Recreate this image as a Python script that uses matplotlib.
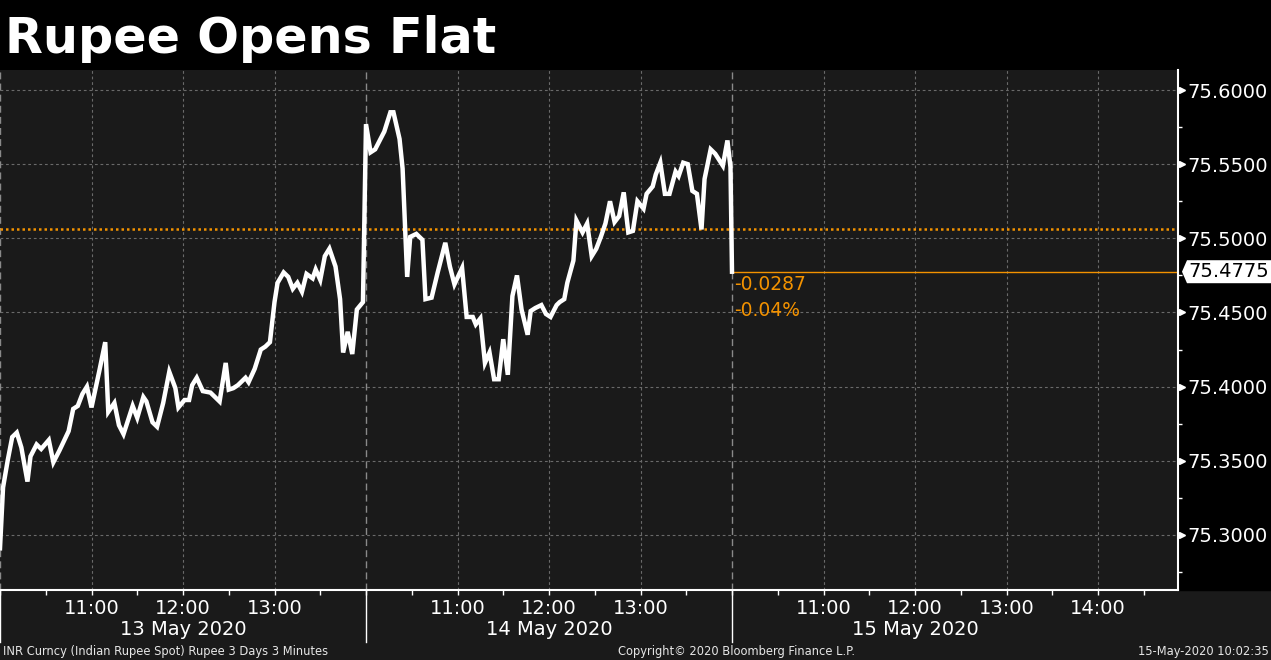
import matplotlib
matplotlib.use('Agg')
import matplotlib.pyplot as plt
from matplotlib.patches import Rectangle, Polygon
from matplotlib.ticker import FixedLocator, MultipleLocator, NullFormatter
import matplotlib.transforms as mtransforms

# INR spot, 3-minute bars, session 10:00-14:00 each day
day_labels = ['13 May 2020', '14 May 2020', '15 May 2020']

d1_times = ['10:00', '10:02', '10:05', '10:08', '10:11', '10:14', '10:18', '10:20', '10:24', '10:27',
            '10:32', '10:35', '10:39', '10:45', '10:48', '10:51', '10:54', '10:57', '11:00', '11:05',
            '11:09', '11:11', '11:15', '11:18', '11:21', '11:27', '11:30', '11:34', '11:36', '11:40',
            '11:43', '11:47', '11:51', '11:55', '11:57', '12:01', '12:04', '12:06', '12:09', '12:13',
            '12:18', '12:21', '12:24', '12:28', '12:30', '12:33', '12:36', '12:41', '12:43', '12:47',
            '12:51', '12:54', '12:57', '13:00', '13:02', '13:06', '13:09', '13:12', '13:15', '13:18',
            '13:21', '13:25', '13:27', '13:30', '13:33', '13:36', '13:40', '13:43', '13:45', '13:48',
            '13:51', '13:54', '13:58']
d1_vals = [75.291, 75.332, 75.350, 75.366, 75.369, 75.359, 75.336, 75.353, 75.361, 75.358,
           75.364, 75.349, 75.357, 75.370, 75.385, 75.387, 75.395, 75.400, 75.386, 75.410,
           75.430, 75.383, 75.389, 75.374, 75.368, 75.387, 75.379, 75.393, 75.390, 75.376,
           75.373, 75.389, 75.410, 75.399, 75.386, 75.391, 75.391, 75.401, 75.406, 75.397,
           75.396, 75.393, 75.390, 75.416, 75.398, 75.399, 75.401, 75.406, 75.403, 75.412,
           75.425, 75.427, 75.430, 75.457, 75.470, 75.477, 75.474, 75.466, 75.470, 75.464,
           75.476, 75.473, 75.479, 75.472, 75.488, 75.493, 75.481, 75.459, 75.423, 75.437,
           75.422, 75.452, 75.457]

d2_times = ['10:00', '10:03', '10:06', '10:09', '10:12', '10:16', '10:18', '10:22', '10:24', '10:27',
            '10:29', '10:33', '10:37', '10:39', '10:43', '10:47', '10:52', '10:55', '10:58', '11:03',
            '11:06', '11:10', '11:12', '11:15', '11:18', '11:21', '11:24', '11:27', '11:30', '11:33',
            '11:36', '11:39', '11:42', '11:46', '11:48', '11:51', '11:55', '11:58', '12:01', '12:05',
            '12:07', '12:10', '12:12', '12:16', '12:18', '12:22', '12:25', '12:28', '12:31', '12:34',
            '12:37', '12:40', '12:43', '12:46', '12:49', '12:52', '12:55', '12:58', '13:02', '13:04',
            '13:08', '13:10', '13:13', '13:16', '13:19', '13:23', '13:25', '13:28', '13:31', '13:34',
            '13:37', '13:40', '13:42', '13:46', '13:49', '13:54', '13:57', '13:59']
d2_vals = [75.577, 75.558, 75.560, 75.566, 75.572, 75.585, 75.585, 75.567, 75.547, 75.474,
           75.501, 75.503, 75.499, 75.459, 75.460, 75.477, 75.497, 75.481, 75.469, 75.480,
           75.447, 75.447, 75.442, 75.446, 75.416, 75.423, 75.405, 75.405, 75.432, 75.408,
           75.461, 75.475, 75.452, 75.435, 75.451, 75.453, 75.455, 75.449, 75.447, 75.455,
           75.457, 75.459, 75.470, 75.485, 75.512, 75.504, 75.510, 75.488, 75.493, 75.501,
           75.510, 75.525, 75.511, 75.515, 75.531, 75.504, 75.505, 75.525, 75.520, 75.530,
           75.535, 75.543, 75.551, 75.530, 75.530, 75.545, 75.542, 75.551, 75.550, 75.532,
           75.530, 75.506, 75.540, 75.560, 75.557, 75.549, 75.566, 75.548]

d3_times = ['10:00']
d3_vals = [75.4775]

prev_close = 75.5062
last_px = 75.4775
net_chg = '-0.0287'
pct_chg = '-0.04%'
hour_labels = ['11:00', '12:00', '13:00']
yticks = [75.30, 75.35, 75.40, 75.45, 75.50, 75.55, 75.60]

ORANGE = '#f39200'
BG = '#1a1a1a'
SESSION = 240  # minutes shown per day


def to_x(day, t):
    h, m = t.split(':')
    return day * SESSION + int(h) * 60 + int(m) - 600


xs, ys = [], []
for d, (tt, vv) in enumerate([(d1_times, d1_vals), (d2_times, d2_vals), (d3_times, d3_vals)]):
    xs += [to_x(d, t) for t in tt]
    ys += vv

fig = plt.figure(figsize=(12.71, 6.60), dpi=100, facecolor=BG)
# black title band and right-axis panel
fig.add_artist(Rectangle((0, 1 - 70 / 660), 1, 70 / 660, transform=fig.transFigure, color='black', zorder=0))
fig.add_artist(Rectangle((1178 / 1271, 70 / 660), 1, 520 / 660, transform=fig.transFigure,
                         color='black', zorder=0))

ax = fig.add_axes([0, 70 / 660, 1178 / 1271, 520 / 660])
ax.set_facecolor(BG)
ax.set_xlim(0, 1178 / 1.525)
ax.set_ylim(75.2629, 75.6135)

# grid
for y in yticks:
    ax.axhline(y, color='#6a6a6a', lw=0.8, ls=(0, (2.5, 2.5)), zorder=1)
hour_pos, hour_txt = [], []
for d in range(3):
    labs = hour_labels + (['14:00'] if d == 2 else [])
    for lab in labs:
        x = to_x(d, lab)
        hour_pos.append(x)
        hour_txt.append(lab)
        ax.axvline(x, color='#6a6a6a', lw=0.8, ls=(0, (2.5, 2.5)), zorder=1)
for d in range(0, 3):
    ax.axvline(d * SESSION, color='#8a8a8a', lw=1.0, ls=(0, (5, 3)), zorder=1)
    ax.plot([d * SESSION, d * SESSION], [0, -0.1], color='white', lw=1.0,
            transform=ax.get_xaxis_transform(), clip_on=False)

# previous close and last price
ax.axhline(prev_close, color=ORANGE, lw=1.8, ls=(0, (1, 1.2)), zorder=2)
ax.plot([xs[-1], ax.get_xlim()[1]], [last_px, last_px], color=ORANGE, lw=1.0, zorder=2)

ax.plot(xs, ys, color='white', lw=3.2, solid_joinstyle='miter', zorder=3)

ax.annotate(net_chg, xy=(xs[-1], last_px), xytext=(1.5, -9.5), textcoords='offset points',
            color=ORANGE, fontsize=13.5, ha='left', va='center')
ax.annotate(pct_chg, xy=(xs[-1], last_px), xytext=(1.5, -28), textcoords='offset points',
            color=ORANGE, fontsize=13.5, ha='left', va='center')

# spines
for s in ['top', 'left']:
    ax.spines[s].set_visible(False)
ax.spines['right'].set_color('white')
ax.spines['right'].set_linewidth(1.5)
ax.spines['bottom'].set_color('white')
ax.spines['bottom'].set_linewidth(1.5)

# x axis
ax.xaxis.set_major_locator(FixedLocator(hour_pos))
ax.set_xticklabels(hour_txt)
ax.xaxis.set_minor_locator(MultipleLocator(30))
ax.tick_params(axis='x', which='both', colors='white', length=3.5, width=1, direction='out',
               labelsize=14, pad=3)
for d, lab in enumerate(day_labels):
    ax.annotate(lab, xy=(d * SESSION + SESSION / 2, 0), xycoords=ax.get_xaxis_transform(),
                xytext=(0, -28.5), textcoords='offset points', ha='center', va='center',
                color='white', fontsize=14)

# y axis on the right
ax.yaxis.tick_right()
ax.yaxis.set_major_locator(FixedLocator(yticks))
ax.set_yticklabels(['%.4f' % v for v in yticks])
ax.yaxis.set_minor_locator(MultipleLocator(0.025))
ax.yaxis.set_minor_formatter(NullFormatter())
ax.tick_params(axis='y', which='major', length=0, pad=6.5, labelsize=14, colors='white')
ax.tick_params(axis='y', which='minor', length=3, width=1, colors='white', direction='out')
ax.plot([1.0035] * len(yticks), yticks, ls='none', marker='>', ms=5, color='white',
        transform=ax.get_yaxis_transform(), clip_on=False)

# last price tag: small pointed white box on the axis
tag_tr = fig.dpi_scale_trans + mtransforms.ScaledTranslation(1.0, last_px, ax.get_yaxis_transform())
tag = Polygon([(0.04, 0), (0.09, 0.115), (1.0, 0.115), (1.0, -0.115), (0.09, -0.115)],
              closed=True, fc='white', ec='none', transform=tag_tr, clip_on=False, zorder=5)
ax.add_artist(tag)
ax.annotate('%.4f' % last_px, xy=(1.0, last_px), xycoords=ax.get_yaxis_transform(),
            xytext=(7.5, 0), textcoords='offset points', ha='left', va='center',
            color='black', fontsize=14, zorder=6, annotation_clip=False)

# title and footer
fig.text(0.004, 1 - 53 / 660, 'Rupee Opens Flat', color='white', fontsize=35.5,
         fontweight='bold', ha='left', va='baseline')
fig.text(0.002, 9 / 660, 'INR Curncy (Indian Rupee Spot) Rupee 3 Days 3 Minutes',
         color='#e6e6e6', fontsize=8.3, ha='left', va='center')
fig.text(737 / 1271, 9 / 660, 'Copyright\u00a9 2020 Bloomberg Finance L.P.',
         color='#e6e6e6', fontsize=8.3, ha='center', va='center')
fig.text(0.998, 9 / 660, '15-May-2020 10:02:35',
         color='#e6e6e6', fontsize=8.3, ha='right', va='center')

fig.savefig('out.png', dpi=100, facecolor=fig.get_facecolor())
